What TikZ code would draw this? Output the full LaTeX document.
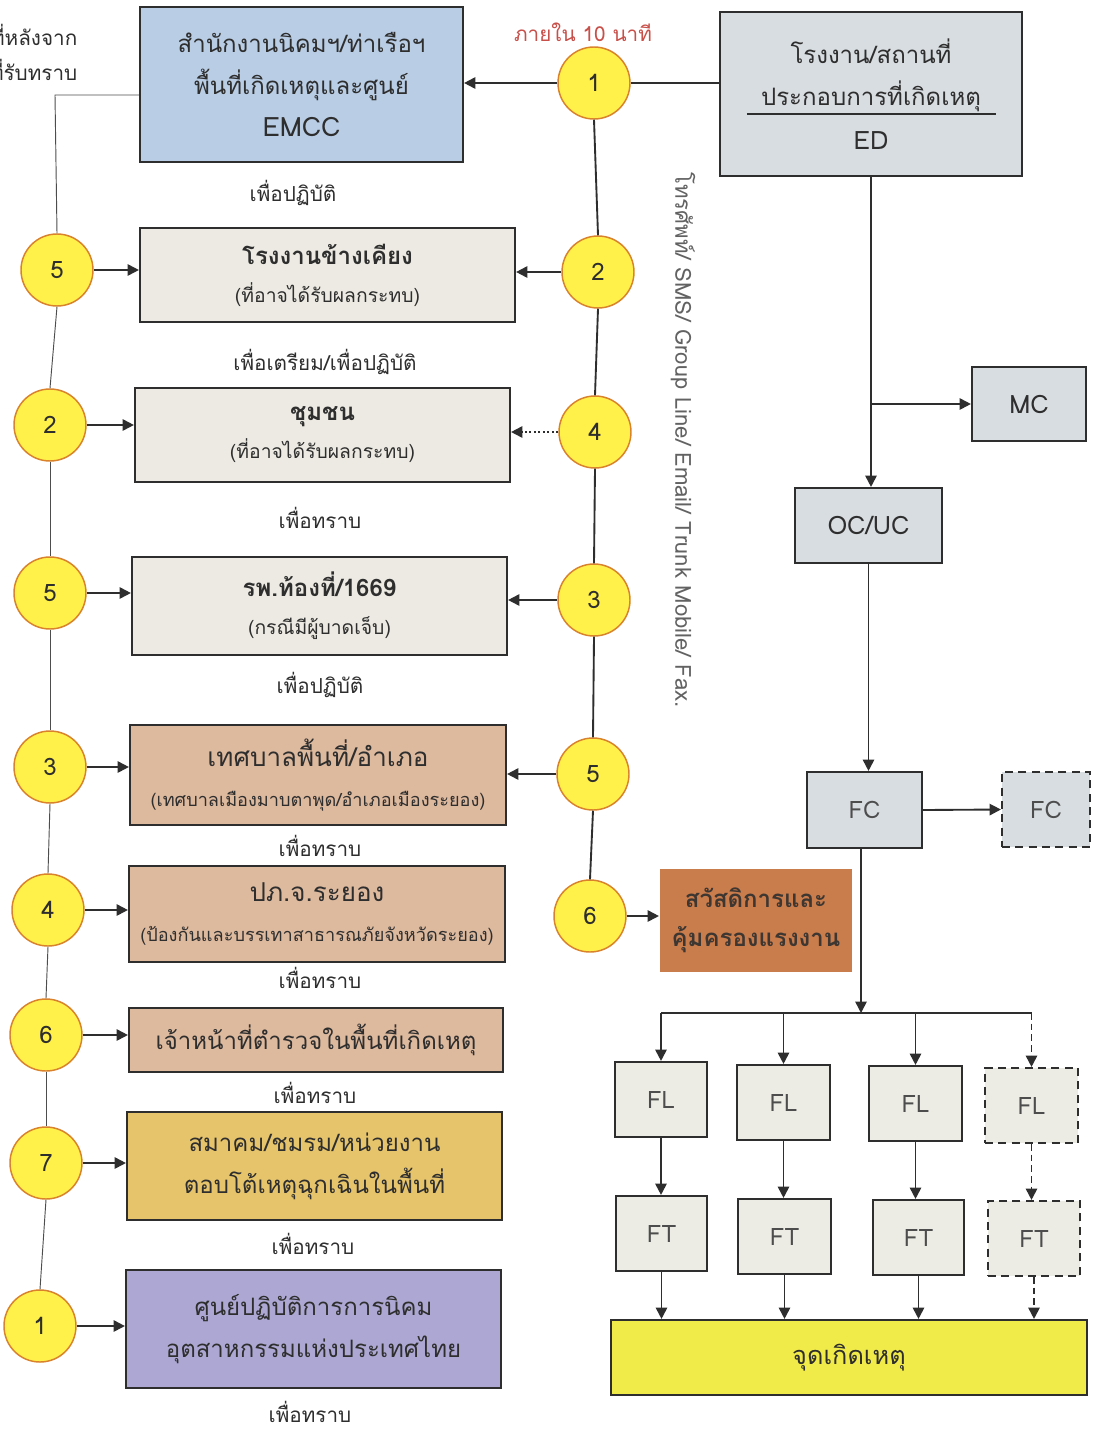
\documentclass[tikz,border=0pt]{standalone}
\usepackage{fontspec}
\setmainfont{Loma}[Script=Thai]
\usetikzlibrary{arrows.meta,calc}
\definecolor{emccblue}{HTML}{B9CDE5}
\definecolor{beige}{HTML}{ECEAE2}
\definecolor{tan}{HTML}{DDB99E}
\definecolor{gold}{HTML}{E6C46C}
\definecolor{lav}{HTML}{ADA8D3}
\definecolor{orng}{HTML}{C97C4C}
\definecolor{bluegray}{HTML}{D8DDE1}
\definecolor{flgray}{HTML}{ECEBE4}
\definecolor{tgt}{HTML}{F1EB4A}
\definecolor{cyel}{HTML}{FFF04A}
\definecolor{cbrd}{HTML}{D9822B}
\definecolor{ink}{HTML}{2E2E2E}
\definecolor{redlab}{HTML}{C8504A}
\newcommand\fmain{\fontsize{18}{31.5}\selectfont}
\newcommand\fsub{\fontsize{14.5}{20}\selectfont}
\newcommand\fsmall{\fontsize{13.6}{20}\selectfont}
\newcommand\flab{\fontsize{15.5}{18}\selectfont}
\newcommand\flatin{\fontsize{20}{24}\selectfont}
\newcommand\bx[7]{\node[#6, minimum width={(#4-#2)*0.75pt}, minimum height={(#5-#3)*0.75pt}] (#1) at ({(#2+#4)/2},{(#3+#5)/2}) {#7};}
\begin{document}
\begin{tikzpicture}[x=0.75pt,y=-0.75pt,
  box/.style={draw=ink, line width=1.6pt, rectangle, inner sep=0pt, align=center, text=ink, font=\fmain},
  dbox/.style={box, dash pattern=on 6pt off 4pt},
  num/.style={circle, draw=cbrd, fill=cyel, line width=1.1pt, minimum size=54pt, inner sep=0pt, text=ink, font=\fontsize{18}{20}\selectfont},
  lab/.style={text=ink, font=\flab},
  conn/.style={draw=ink, line width=1.4pt},
  thin/.style={draw=ink!85, line width=0.7pt},
  arr/.style={conn, -{Triangle[length=8.5pt,width=8.5pt]}},
  darr/.style={arr, dash pattern=on 5pt off 3pt}]
\useasboundingbox (0,0) rectangle (1094,1434);
\fill[white] (0,0) rectangle (1094,1434);
% top-left partial text
\node[lab, anchor=east] (tl1) at (82,35) {ที่หลังจาก};
\node[lab, anchor=east] (tl2) at (82,70) {ที่รับทราบ};
% left boxes
\bx{emcc}{140}{7}{463}{162}{box, fill=emccblue}{สำนักงานนิคมฯ/ท่าเรือฯ\\ พื้นที่เกิดเหตุและศูนย์\\ {\flatin EMCC}}
\node[lab] (t1) at (293,193) {เพื่อปฏิบัติ};
\bx{nb}{140}{228}{515}{322}{box, fill=beige}{\textbf{โรงงานข้างเคียง}\\[-3pt] {\fsub (ที่อาจได้รับผลกระทบ)}}
\node[lab] (t2) at (325,362) {เพื่อเตรียม/เพื่อปฏิบัติ};
\bx{cm}{135}{388}{510}{482}{box, fill=beige}{\textbf{ชุมชน}\\[-3pt] {\fsub (ที่อาจได้รับผลกระทบ)}}
\node[lab] (t3) at (320,518) {เพื่อทราบ};
\bx{hp}{132}{557}{507}{655}{box, fill=beige}{\textbf{รพ.ท้องที่/1669}\\[-3pt] {\fsub (กรณีมีผู้บาดเจ็บ)}}
\node[lab] (t4) at (320,685) {เพื่อปฏิบัติ};
\bx{ms}{130}{725}{506}{825}{box, fill=tan}{{\fontsize{19.5}{20}\selectfont เทศบาลพื้นที่/อำเภอ}\\[-2pt] {\fsmall (เทศบาลเมืองมาบตาพุด/อำเภอเมืองระยอง)}}
\node[lab] (t5) at (320,846) {เพื่อทราบ};
\bx{dp}{129}{866}{505}{962}{box, fill=tan}{{\fontsize{19.5}{20}\selectfont ปภ.จ.ระยอง}\\[-2pt] {\fsmall (ป้องกันและบรรเทาสาธารณภัยจังหวัดระยอง)}}
\node[lab] (t6) at (320,978) {เพื่อทราบ};
\bx{po}{129}{1008}{503}{1072}{box, fill=tan}{เจ้าหน้าที่ตำรวจในพื้นที่เกิดเหตุ}
\node[lab] (t7) at (315,1093) {เพื่อทราบ};
\bx{as}{127}{1112}{502}{1220}{box, fill=gold}{สมาคม/ชมรม/หน่วยงาน\\ ตอบโต้เหตุฉุกเฉินในพื้นที่}
\node[lab] (t8) at (313,1244) {เพื่อทราบ};
\bx{ie}{126}{1270}{501}{1388}{box, fill=lav}{ศูนย์ปฏิบัติการการนิคม\\ อุตสาหกรรมแห่งประเทศไทย}
\node[lab] (t9) at (310,1412) {เพื่อทราบ};
% left circles
\node[num] (l1) at (57,270) {5};
\node[num] (l2) at (50,425) {2};
\node[num] (l3) at (50,593) {5};
\node[num] (l4) at (50,767) {3};
\node[num] (l5) at (48,910) {4};
\node[num] (l6) at (46,1035) {6};
\node[num] (l7) at (46,1163) {7};
\node[num] (l8) at (40,1326) {1};
\coordinate (lc) at (55,95);
\draw[thin] (emcc.west |- lc) -- (lc) -- (l1.north);
\draw[thin] (l1.south) -- (l2.north);
\draw[thin] (l2.south) -- (l3.north);
\draw[thin] (l3.south) -- (l4.north);
\draw[thin] (l4.south) -- (l5.north);
\draw[thin] (l5.south) -- (l6.north);
\draw[thin] (l6.south) -- (l7.north);
\draw[thin] (l7.south) -- (l8.north);
\draw[arr] (l1.east) -- (l1.east -| nb.west);
\draw[arr] (l2.east) -- (l2.east -| cm.west);
\draw[arr] (l3.east) -- (l3.east -| hp.west);
\draw[arr] (l4.east) -- (l4.east -| ms.west);
\draw[arr] (l5.east) -- (l5.east -| dp.west);
\draw[arr] (l6.east) -- (l6.east -| po.west);
\draw[arr] (l7.east) -- (l7.east -| as.west);
\draw[arr] (l8.east) -- (l8.east -| ie.west);
% right circles
\node[text=redlab, font=\flab] (tm) at (583,32) {ภายใน 10 นาที};
\node[num] (r1) at (594,83) {1};
\node[num] (r2) at (598,272) {2};
\node[num] (r4) at (595,432) {4};
\node[num] (r3) at (594,600) {3};
\node[num] (r5) at (593,774) {5};
\node[num] (r6) at (590,916) {6};
\draw[conn] (r1.south) -- (r2.north);
\draw[conn] (r2.south) -- (r4.north);
\draw[conn] (r4.south) -- (r3.north);
\draw[conn] (r3.south) -- (r5.north);
\draw[conn] (r5.south) -- (r6.north);
\draw[arr] (r1.west) -- (r1.west -| emcc.east);
\draw[arr] (r2.west) -- (r2.west -| nb.east);
\draw[arr, dotted] (r4.west) -- (r4.west -| cm.east);
\draw[arr] (r3.west) -- (r3.west -| hp.east);
\draw[arr] (r5.west) -- (r5.west -| ms.east);
\bx{wf}{660}{869}{852}{972}{box, draw=none, fill=orng, text=ink!90!orng}{\textbf{สวัสดิการและ}\\[-2pt] \textbf{คุ้มครองแรงงาน}}
\draw[arr] (r6.east) -- (r6.east -| wf.west);
% vertical text
\node[rotate=-90, text=ink!75, font=\fontsize{16.6}{20}\selectfont] (tel) at (683,440) {โทรศัพท์/ SMS/ Group Line/ Email/ Trunk Mobile/ Fax.};
% right side
\bx{ed}{720}{12}{1022}{176}{box, fill=bluegray}{โรงงาน/สถานที่\\ ประกอบการที่เกิดเหตุ\\[2pt] {\fontsize{19}{20}\selectfont ED}}
\draw[line width=1.4pt, ink] ($(ed.north west)+(28,103)$) -- ($(ed.north east)+(-27,103)$);
\draw[conn] (r1.east) -- (r1.east -| ed.west);
\bx{mc}{972}{367}{1086}{441}{box, fill=bluegray, font=\fontsize{19}{20}\selectfont}{MC}
\bx{oc}{795}{488}{942}{563}{box, fill=bluegray, font=\fontsize{19}{20}\selectfont}{OC/UC}
\draw[arr] (ed.south) -- (ed.south |- oc.north);
\draw[arr] (ed.south |- mc.west) -- (mc.west);
\bx{fc}{807}{772}{922}{848}{box, fill=bluegray, text=ink!85}{FC}
\bx{fcd}{1002}{772}{1090}{847}{dbox, fill=bluegray, text=ink!85}{FC}
\draw[arr] (oc.south) -- (oc.south |- fc.north);
\draw[arr] (fc.east) -- (fcd.west);
\tikzset{flb/.style={box, fill=flgray, text=ink!85}}
\bx{fl1}{615}{1062}{707}{1137}{flb}{FL}
\bx{fl2}{737}{1065}{830}{1140}{flb}{FL}
\bx{fl3}{869}{1066}{962}{1141}{flb}{FL}
\bx{fl4}{985}{1068}{1078}{1143}{flb, dash pattern=on 6pt off 4pt}{FL}
\bx{ft1}{616}{1196}{707}{1271}{flb}{FT}
\bx{ft2}{738}{1199}{831}{1274}{flb}{FT}
\bx{ft3}{873}{1200}{964}{1275}{flb}{FT}
\bx{ft4}{988}{1201}{1080}{1276}{flb, dash pattern=on 6pt off 4pt}{FT}
\bx{tg}{611}{1320}{1087}{1395}{box, fill=tgt, font=\fontsize{19}{20}\selectfont}{จุดเกิดเหตุ}
\coordinate (bus) at (861,1013);
\draw[arr, line width=1.1pt] (fc.south -| bus) -- (bus);
\draw[conn] (fl1.north |- bus) -- (fl4.north |- bus);
\draw[arr] (fl1.north |- bus) -- (fl1.north);
\draw[arr] (fl2.north |- bus) -- (fl2.north);
\draw[arr] (fl3.north |- bus) -- (fl3.north);
\draw[darr] (fl4.north |- bus) -- (fl4.north);
\draw[arr] (fl1.south) -- (fl1.south |- ft1.north);
\draw[arr] (fl2.south) -- (fl2.south |- ft2.north);
\draw[arr] (fl3.south) -- (fl3.south |- ft3.north);
\draw[darr] (fl4.south) -- (fl4.south |- ft4.north);
\draw[arr] (ft1.south) -- (ft1.south |- tg.north);
\draw[arr] (ft2.south) -- (ft2.south |- tg.north);
\draw[arr] (ft3.south) -- (ft3.south |- tg.north);
\draw[darr] (ft4.south) -- (ft4.south |- tg.north);
\end{tikzpicture}
\end{document}
